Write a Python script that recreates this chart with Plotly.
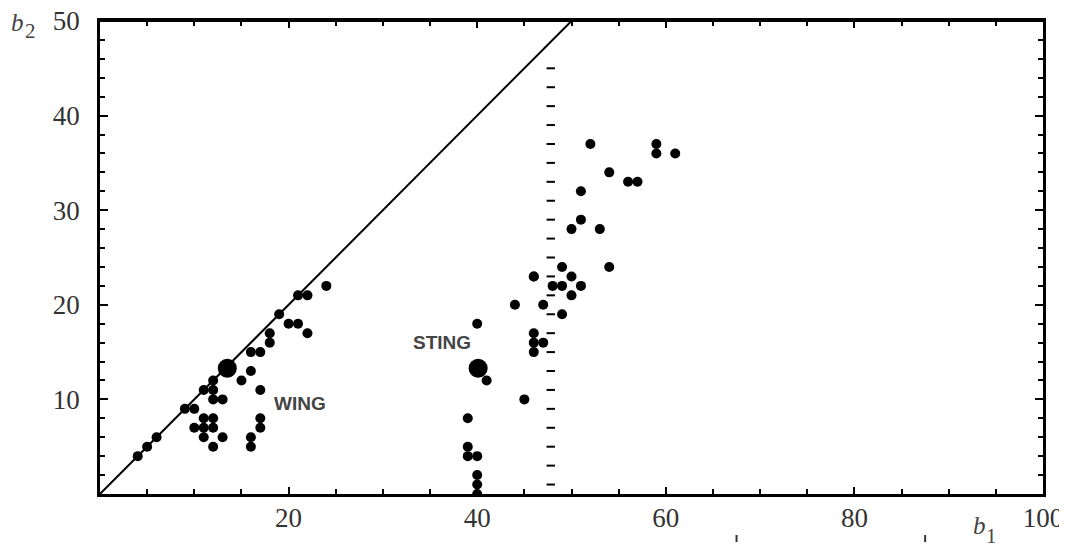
import plotly.graph_objects as go

# WING cluster (b1, b2)
wing_b1 = [4, 5, 6, 9, 10, 10, 11, 11, 11, 12, 12, 12, 13, 11, 12, 12, 12, 13,
           15, 16, 16, 17, 17, 16, 16, 17, 17, 18, 18, 19, 20, 21, 21, 22, 22, 24]
wing_b2 = [4, 5, 6, 9, 9, 7, 8, 7, 6, 8, 7, 5, 6, 11, 11, 12, 10, 10,
           12, 13, 15, 15, 11, 6, 5, 8, 7, 17, 16, 19, 18, 18, 21, 21, 17, 22]

# STING cluster (b1, b2)
sting_b1 = [40, 41, 45, 39, 39, 39, 40, 40, 40, 40, 46, 46, 47, 46, 44, 47, 49,
            46, 48, 49, 51, 50, 46, 50, 49, 54, 50, 53, 51, 51, 54, 56, 57, 52, 59, 59, 61]
sting_b2 = [18, 12, 10, 8, 5, 4, 4, 2, 1, 0, 17, 16, 16, 15, 20, 20, 19,
            23, 22, 22, 22, 21, 23, 23, 24, 24, 28, 28, 29, 32, 34, 33, 33, 37, 37, 36, 36]

# Mean points (large dots)
mean_b1 = [13.5, 40.1]
mean_b2 = [13.3, 13.3]

# Reference lines
diag_b1 = [0, 50]
diag_b2 = [0, 50]
cut_b1 = 47.8
cut_b2 = list(range(1, 46, 2))

x_ticks = [20, 40, 60, 80, 100]
y_ticks = [10, 20, 30, 40, 50]

# page body has an 8px margin; size the figure so the plot lands where the reference has it
OFF = 8
W, H = 1067 - OFF, 548 - OFF
L, R, T, B = 100 - OFF, 24, 21 - OFF, 54
PW, PH = W - L - R, H - T - B


def px_to_paper(px, py):
    return (px - OFF - L) / PW, (H - B - (py - OFF)) / PH


fig = go.Figure()

fig.add_trace(go.Scatter(x=diag_b1, y=diag_b2, mode="lines",
                         line=dict(color="black", width=2), hoverinfo="skip"))
fig.add_trace(go.Scatter(x=[cut_b1] * len(cut_b2), y=cut_b2, mode="markers",
                         marker=dict(symbol="line-ew", size=6,
                                     line=dict(color="black", width=2)),
                         hoverinfo="skip"))
fig.add_trace(go.Scatter(x=wing_b1, y=wing_b2, mode="markers",
                         marker=dict(color="black", size=10)))
fig.add_trace(go.Scatter(x=sting_b1, y=sting_b2, mode="markers",
                         marker=dict(color="black", size=10)))
fig.add_trace(go.Scatter(x=mean_b1, y=mean_b2, mode="markers",
                         marker=dict(color="black", size=19)))

tickfont = dict(family="Liberation Serif", size=27, color="#333")

fig.update_xaxes(range=[0, 100], tickmode="array", tickvals=x_ticks,
                 ticks="inside", ticklen=7, tickwidth=2, tickcolor="black",
                 minor=dict(dtick=5, tick0=0, ticks="inside", ticklen=5,
                            tickwidth=2, tickcolor="black"),
                 showline=True, linecolor="black", linewidth=2.5, mirror="ticks",
                 showgrid=False, zeroline=False, tickfont=tickfont,
                 ticklabelstandoff=-2, automargin=False, ticklabeloverflow="allow")
fig.update_yaxes(range=[0, 50], tickmode="array", tickvals=y_ticks,
                 ticks="inside", ticklen=8, tickwidth=2, tickcolor="black",
                 minor=dict(dtick=2, tick0=0, ticks="inside", ticklen=5,
                            tickwidth=2, tickcolor="black"),
                 showline=True, linecolor="black", linewidth=2.5, mirror="ticks",
                 showgrid=False, zeroline=False, tickfont=tickfont,
                 ticklabelstandoff=12, automargin=False, ticklabeloverflow="allow")

ann_font = dict(family="Liberation Sans", size=19, color="#444")
fig.add_annotation(x=21.2, y=9.6, text="<b>WING</b>", showarrow=False, font=ann_font)
fig.add_annotation(x=36.3, y=16.0, text="<b>STING</b>", showarrow=False, font=ann_font)

lab_font = dict(family="Liberation Serif", size=25, color="#444")
sub_font = dict(family="Liberation Serif", size=21, color="#444")
for (px, py, txt, f) in [(17, 22, "<i>b</i>", lab_font), (30, 31, "2", sub_font),
                         (979, 525, "<i>b</i>", lab_font), (991, 536, "1", sub_font)]:
    xp, yp = px_to_paper(px, py)
    fig.add_annotation(xref="paper", yref="paper", x=xp, y=yp, text=txt,
                       xanchor="center", yanchor="middle", borderpad=0,
                       showarrow=False, font=f)

# top frame edge (same place as the mirrored axis line)
fig.add_shape(type="line", xref="paper", yref="paper", x0=0, x1=1, y0=1, y1=1,
              line=dict(color="black", width=2))

for xv in [67.5, 87.5]:
    _, y0 = px_to_paper(0, 535)
    _, y1 = px_to_paper(0, 542)
    fig.add_shape(type="line", xref="x", yref="paper", x0=xv, x1=xv, y0=y0, y1=y1,
                  line=dict(color="#333", width=2))

fig.update_layout(width=W, height=H, showlegend=False,
                  plot_bgcolor="white", paper_bgcolor="white",
                  margin=dict(l=L, r=R, t=T, b=B))

fig.write_html("out.html")
